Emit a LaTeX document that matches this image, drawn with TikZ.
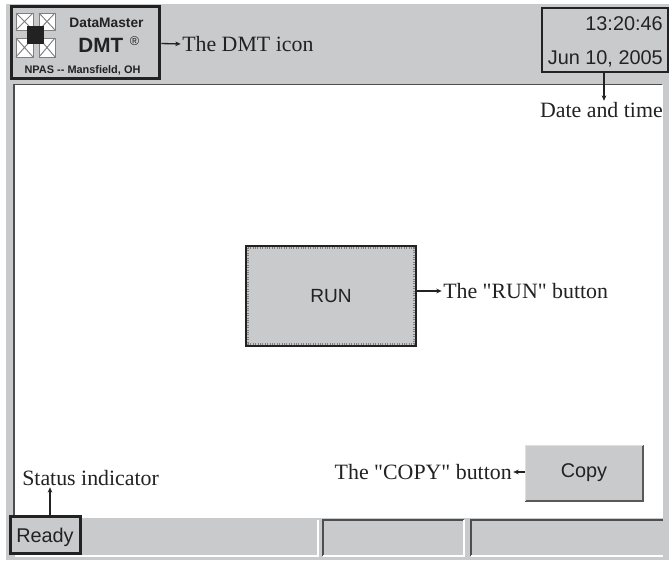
\documentclass[tikz,border=0pt]{standalone}
\usepackage{fontspec}
\newfontfamily\annot{Liberation Serif}
\newfontfamily\uifont{Liberation Sans}
\usetikzlibrary{arrows.meta}
\definecolor{panel}{HTML}{C9CACC}
\definecolor{ink}{HTML}{222222}
\tikzset{
  x=0.75pt,y=-0.75pt,
  callout/.style={inner sep=0pt,font=\annot\fontsize{16.4}{17}\selectfont,text=ink},
  screen/.style={inner sep=0pt,font=\uifont\fontsize{14.9}{16}\selectfont,text=ink},
  frame/.style={draw=ink,line width=2.2pt,inner sep=0pt},
  lead/.style={draw=ink,line width=1pt,shorten >=1pt,-{Stealth[length=4pt,width=3.5pt]}},
  tile/.style={draw=gray,fill=white,line width=.7pt},
}
\begin{document}
\begin{tikzpicture}
\useasboundingbox (0,0) rectangle (669,561);
\fill[white] (0,0) rectangle (669,561);
% panel and work area
\fill[panel] (6,4) rectangle (669,560);
\fill[white] (14,85) rectangle (662,516);
\draw[ink!80,line width=.9pt] (14,517) -- (14,84.5) -- (662,84.5);
\draw[white,line width=1pt] (662.5,85) -- (662.5,517) -- (14,517);
% status cells
\draw[ink!80,line width=.8pt] (323,556) -- (323,520) -- (464,520);
\draw[ink!80,line width=.8pt] (471,556) -- (471,520) -- (663,520);
\draw[white,line width=.8pt] (15,556) -- (318,556) -- (318,520);
\draw[white,line width=.8pt] (323,556) -- (464,556) -- (464,520);
\draw[white,line width=.8pt] (471,556) -- (663,556);
% DMT icon
\foreach \xa/\ya/\xb/\yb in {16/13/33/30,39/13/55/30,16/38/33/57,39/38/55/57}{
  \draw[tile] (\xa,\ya) rectangle (\xb,\yb);
}
\draw[gray,line width=.7pt] (16,13) -- (33,30) (33,13) -- (16,30) (39,13) -- (55,30) (55,13) -- (39,30)
  (16,38) -- (33,57) (33,38) -- (16,57) (39,38) -- (55,57) (55,38) -- (39,57);
\fill[ink] (27,26) rectangle (44,44);
\node[inner sep=0pt,font=\uifont\bfseries\fontsize{10.3}{11}\selectfont,text=ink] (dmname) at (106.5,23) {DataMaster};
\node[inner sep=0pt,anchor=east,font=\uifont\bfseries\fontsize{15.5}{16}\selectfont,text=ink] (dmt) at (123.5,45.5) {DMT};
\node[inner sep=0pt,font=\uifont\fontsize{9.5}{10}\selectfont,text=ink] (reg) at (134.5,41) {®};
\node[inner sep=0pt,font=\uifont\bfseries\fontsize{8.2}{9}\selectfont,text=ink] (npas) at (82.5,70) {NPAS -- Mansfield, OH};
\node[frame,minimum width=111.5pt,minimum height=53.5pt] (iconbox) at (85.5,42.5) {};
\node[callout,anchor=west] (icontext) at (182,44) {The DMT icon};
\draw[lead] (iconbox.east) ++(0,1) coordinate (iconout) (iconout) -- (icontext.west);
% date and time
\node[screen,anchor=east] (clock) at (663,24) {13:20:46};
\node[screen,anchor=east] (date) at (663,59) {Jun 10, 2005};
\node[frame,minimum width=94.5pt,minimum height=48pt] (datebox) at (605,40) {};
\node[callout,anchor=east] (datetext) at (663,110) {Date and time};
\draw[lead] (datebox.south) ++(-1,0) coordinate (dateout) (dateout) -- (dateout |- datetext.north);
% RUN
\node[inner sep=0pt,draw=ink,line width=1.5pt,fill=panel,minimum width=128pt,minimum height=75.5pt] (run) at (331,296) {};
\draw[gray,densely dotted,line width=.8pt] (248,248) rectangle (414,344);
\node[inner sep=0pt,font=\uifont\fontsize{14.3}{16}\selectfont,text=ink] (runlabel) at (run.center) {RUN};
\node[callout,anchor=west] (runtext) at (443,291) {The "RUN" button};
\draw[lead] (run.east |- runtext.west) -- (runtext.west);
% COPY
\node[screen,fill=panel,minimum width=88pt,minimum height=42pt] (copy) at (584,473) {Copy};
\draw[ink!75,line width=.9pt] (525,501) -- (643,501) -- (643,445);
\draw[white!75!gray,line width=.6pt] (525,501) -- (525,445) -- (643,445);
\node[callout,anchor=east] (copytext) at (512,472) {The "COPY" button};
\draw[lead] (copy.west |- copytext.east) -- (copytext.east);
% status
\node[screen,anchor=west] (ready) at (16,537) {Ready};
\node[frame,minimum width=52.5pt,minimum height=27.5pt] (readybox) at (45.5,535) {};
\node[callout,anchor=west] (statustext) at (22,478) {Status indicator};
\draw[lead] (readybox.north -| 50,0) coordinate (statusout) (statusout) -- (statusout |- statustext.south);
\end{tikzpicture}
\end{document}
